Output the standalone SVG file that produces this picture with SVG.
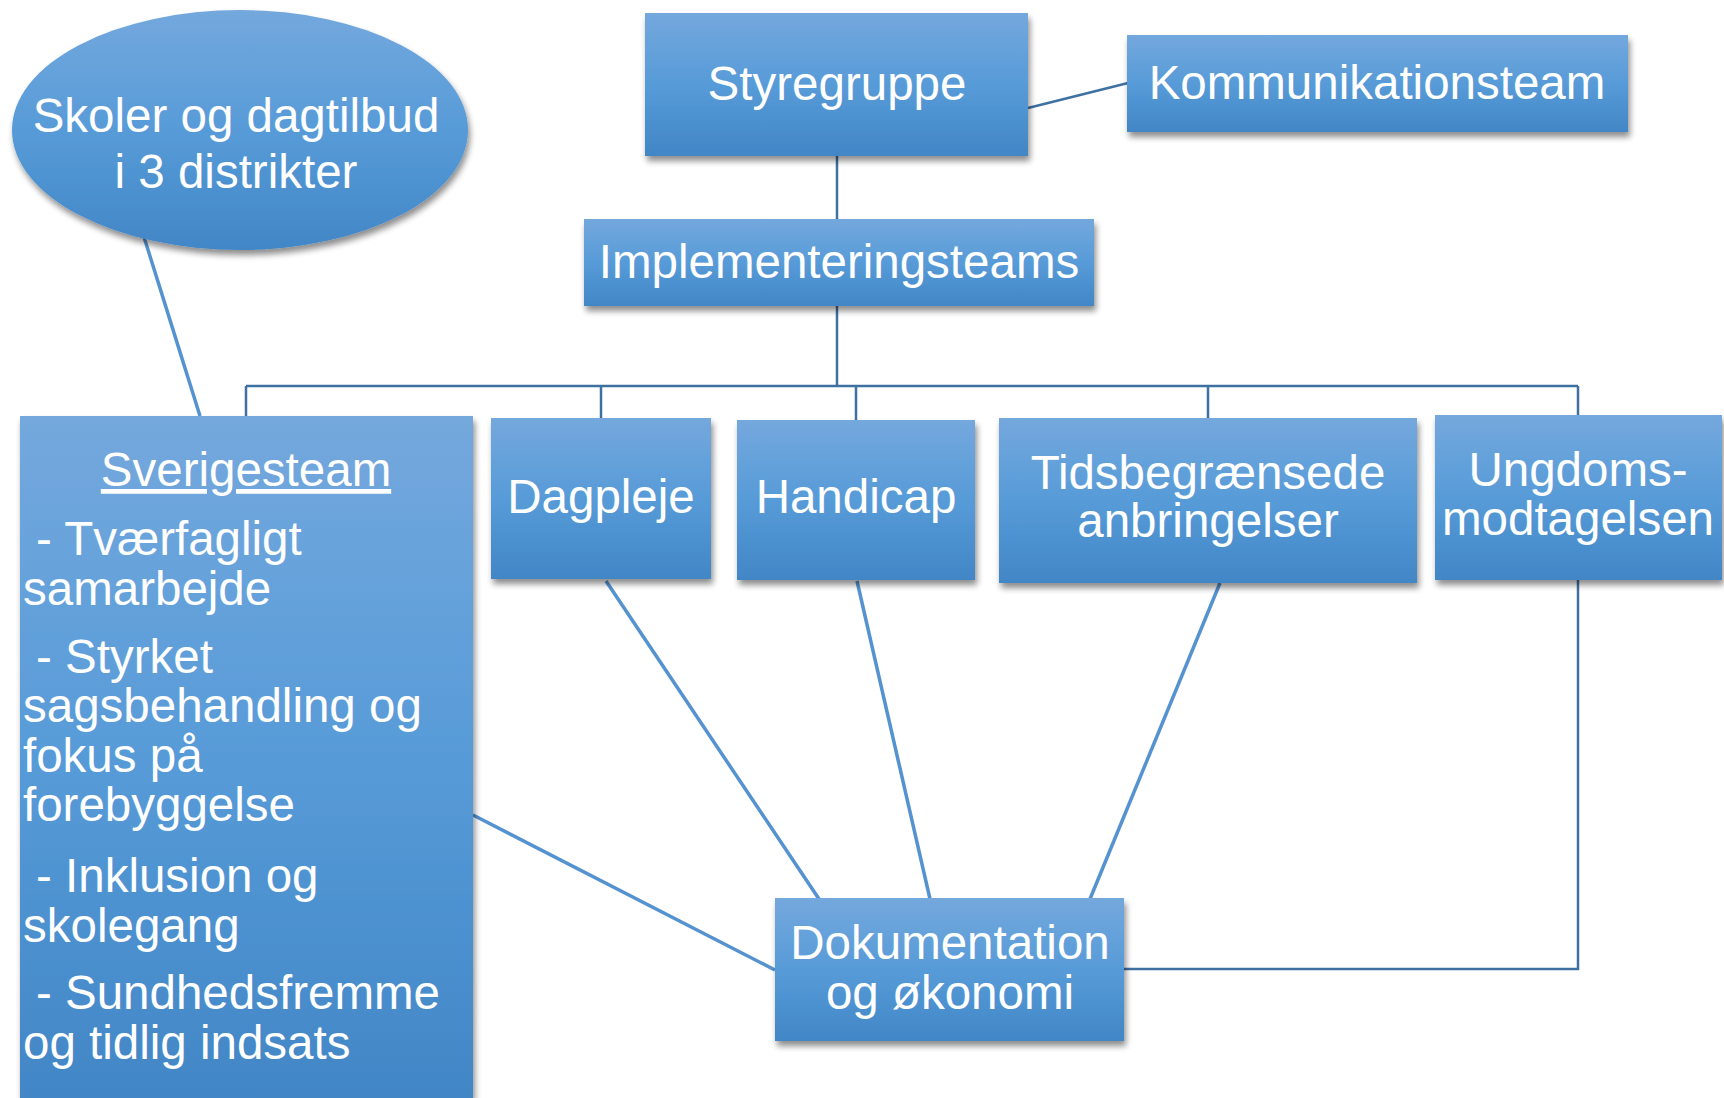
<svg xmlns="http://www.w3.org/2000/svg" width="1724" height="1098" viewBox="0 0 1724 1098">
<defs>
<linearGradient id="g" x1="0" y1="0" x2="0" y2="1">
<stop offset="0" stop-color="#74a8dd"/>
<stop offset="0.5" stop-color="#579bd8"/>
<stop offset="1" stop-color="#4286c6"/>
</linearGradient>
<filter id="sh" x="-10%" y="-10%" width="125%" height="130%">
<feGaussianBlur in="SourceAlpha" stdDeviation="3"/>
<feOffset dx="2" dy="5" result="b"/>
<feComponentTransfer><feFuncA type="linear" slope="0.45"/></feComponentTransfer>
<feMerge><feMergeNode/><feMergeNode in="SourceGraphic"/></feMerge>
</filter>
</defs>
<style>
.box{fill:url(#g);filter:url(#sh)}
.t{font-family:"Liberation Sans",Arial,sans-serif;font-size:47.5px;fill:#fff}
.c{text-anchor:middle}
.org{stroke:#3f70a2;stroke-width:2.5;fill:none}
.lnk{stroke:#5592d0;stroke-width:3.5;fill:none}
</style>
<rect width="1724" height="1098" fill="#fff"/>
<g id="connectors">
<line class="org" x1="837" y1="156" x2="837" y2="219"/>
<line class="org" x1="1028" y1="108" x2="1128" y2="83"/>
<line class="org" x1="837" y1="306" x2="837" y2="387"/>
<line class="org" x1="246" y1="386" x2="1578" y2="386"/>
<line class="org" x1="246" y1="386" x2="246" y2="416"/>
<line class="org" x1="601" y1="386" x2="601" y2="418"/>
<line class="org" x1="856" y1="386" x2="856" y2="420" stroke="#5592d0"/>
<line class="org" x1="1208" y1="386" x2="1208" y2="418"/>
<line class="org" x1="1578" y1="386" x2="1578" y2="415"/>
<line class="lnk" x1="144" y1="237" x2="200" y2="416"/>
<line class="lnk" x1="473" y1="815" x2="775" y2="970"/>
<line class="lnk" x1="606" y1="581" x2="819" y2="899"/>
<line class="lnk" x1="857" y1="581" x2="930" y2="899"/>
<line class="lnk" x1="1220" y1="583" x2="1090" y2="899"/>
<polyline class="org" points="1578,580 1578,969 1124,969" stroke="#5592d0"/>
</g>
<g id="skoler">
<ellipse class="box" cx="240" cy="130" rx="228" ry="120"/>
<text class="t c" x="236" y="132">Skoler og dagtilbud</text>
<text class="t c" x="236" y="188">i 3 distrikter</text>
</g>
<g id="styregruppe">
<rect class="box" x="645" y="13" width="383" height="143"/>
<text class="t c" x="837" y="100">Styregruppe</text>
</g>
<g id="kommunikationsteam">
<rect class="box" x="1127" y="35" width="501" height="97"/>
<text class="t c" x="1377" y="99">Kommunikationsteam</text>
</g>
<g id="implementeringsteams">
<rect class="box" x="584" y="219" width="510" height="87"/>
<text class="t c" x="839" y="278">Implementeringsteams</text>
</g>
<g id="sverigesteam">
<rect class="box" x="20" y="416" width="453" height="682"/>
<text class="t c" x="246" y="486" text-decoration="underline">Sverigesteam</text>
<text class="t" x="36" y="555">- Tværfagligt</text>
<text class="t" x="23" y="605">samarbejde</text>
<text class="t" x="36" y="673">- Styrket</text>
<text class="t" x="23" y="722">sagsbehandling og</text>
<text class="t" x="23" y="772">fokus på</text>
<text class="t" x="23" y="821">forebyggelse</text>
<text class="t" x="36" y="892">- Inklusion og</text>
<text class="t" x="23" y="942">skolegang</text>
<text class="t" x="36" y="1009">- Sundhedsfremme</text>
<text class="t" x="23" y="1059">og tidlig indsats</text>
</g>
<g id="dagpleje">
<rect class="box" x="491" y="418" width="220" height="161"/>
<text class="t c" x="601" y="513">Dagpleje</text>
</g>
<g id="handicap">
<rect class="box" x="737" y="420" width="238" height="160"/>
<text class="t c" x="856" y="513">Handicap</text>
</g>
<g id="tidsbegraensede">
<rect class="box" x="999" y="418" width="418" height="165"/>
<text class="t c" x="1208" y="489">Tidsbegrænsede</text>
<text class="t c" x="1208" y="537">anbringelser</text>
</g>
<g id="ungdoms">
<rect class="box" x="1435" y="415" width="287" height="165"/>
<text class="t c" x="1578" y="486">Ungdoms-</text>
<text class="t c" x="1578" y="535">modtagelsen</text>
</g>
<g id="dokumentation">
<rect class="box" x="775" y="898" width="349" height="143"/>
<text class="t c" x="950" y="959">Dokumentation</text>
<text class="t c" x="950" y="1009">og økonomi</text>
</g>
</svg>
